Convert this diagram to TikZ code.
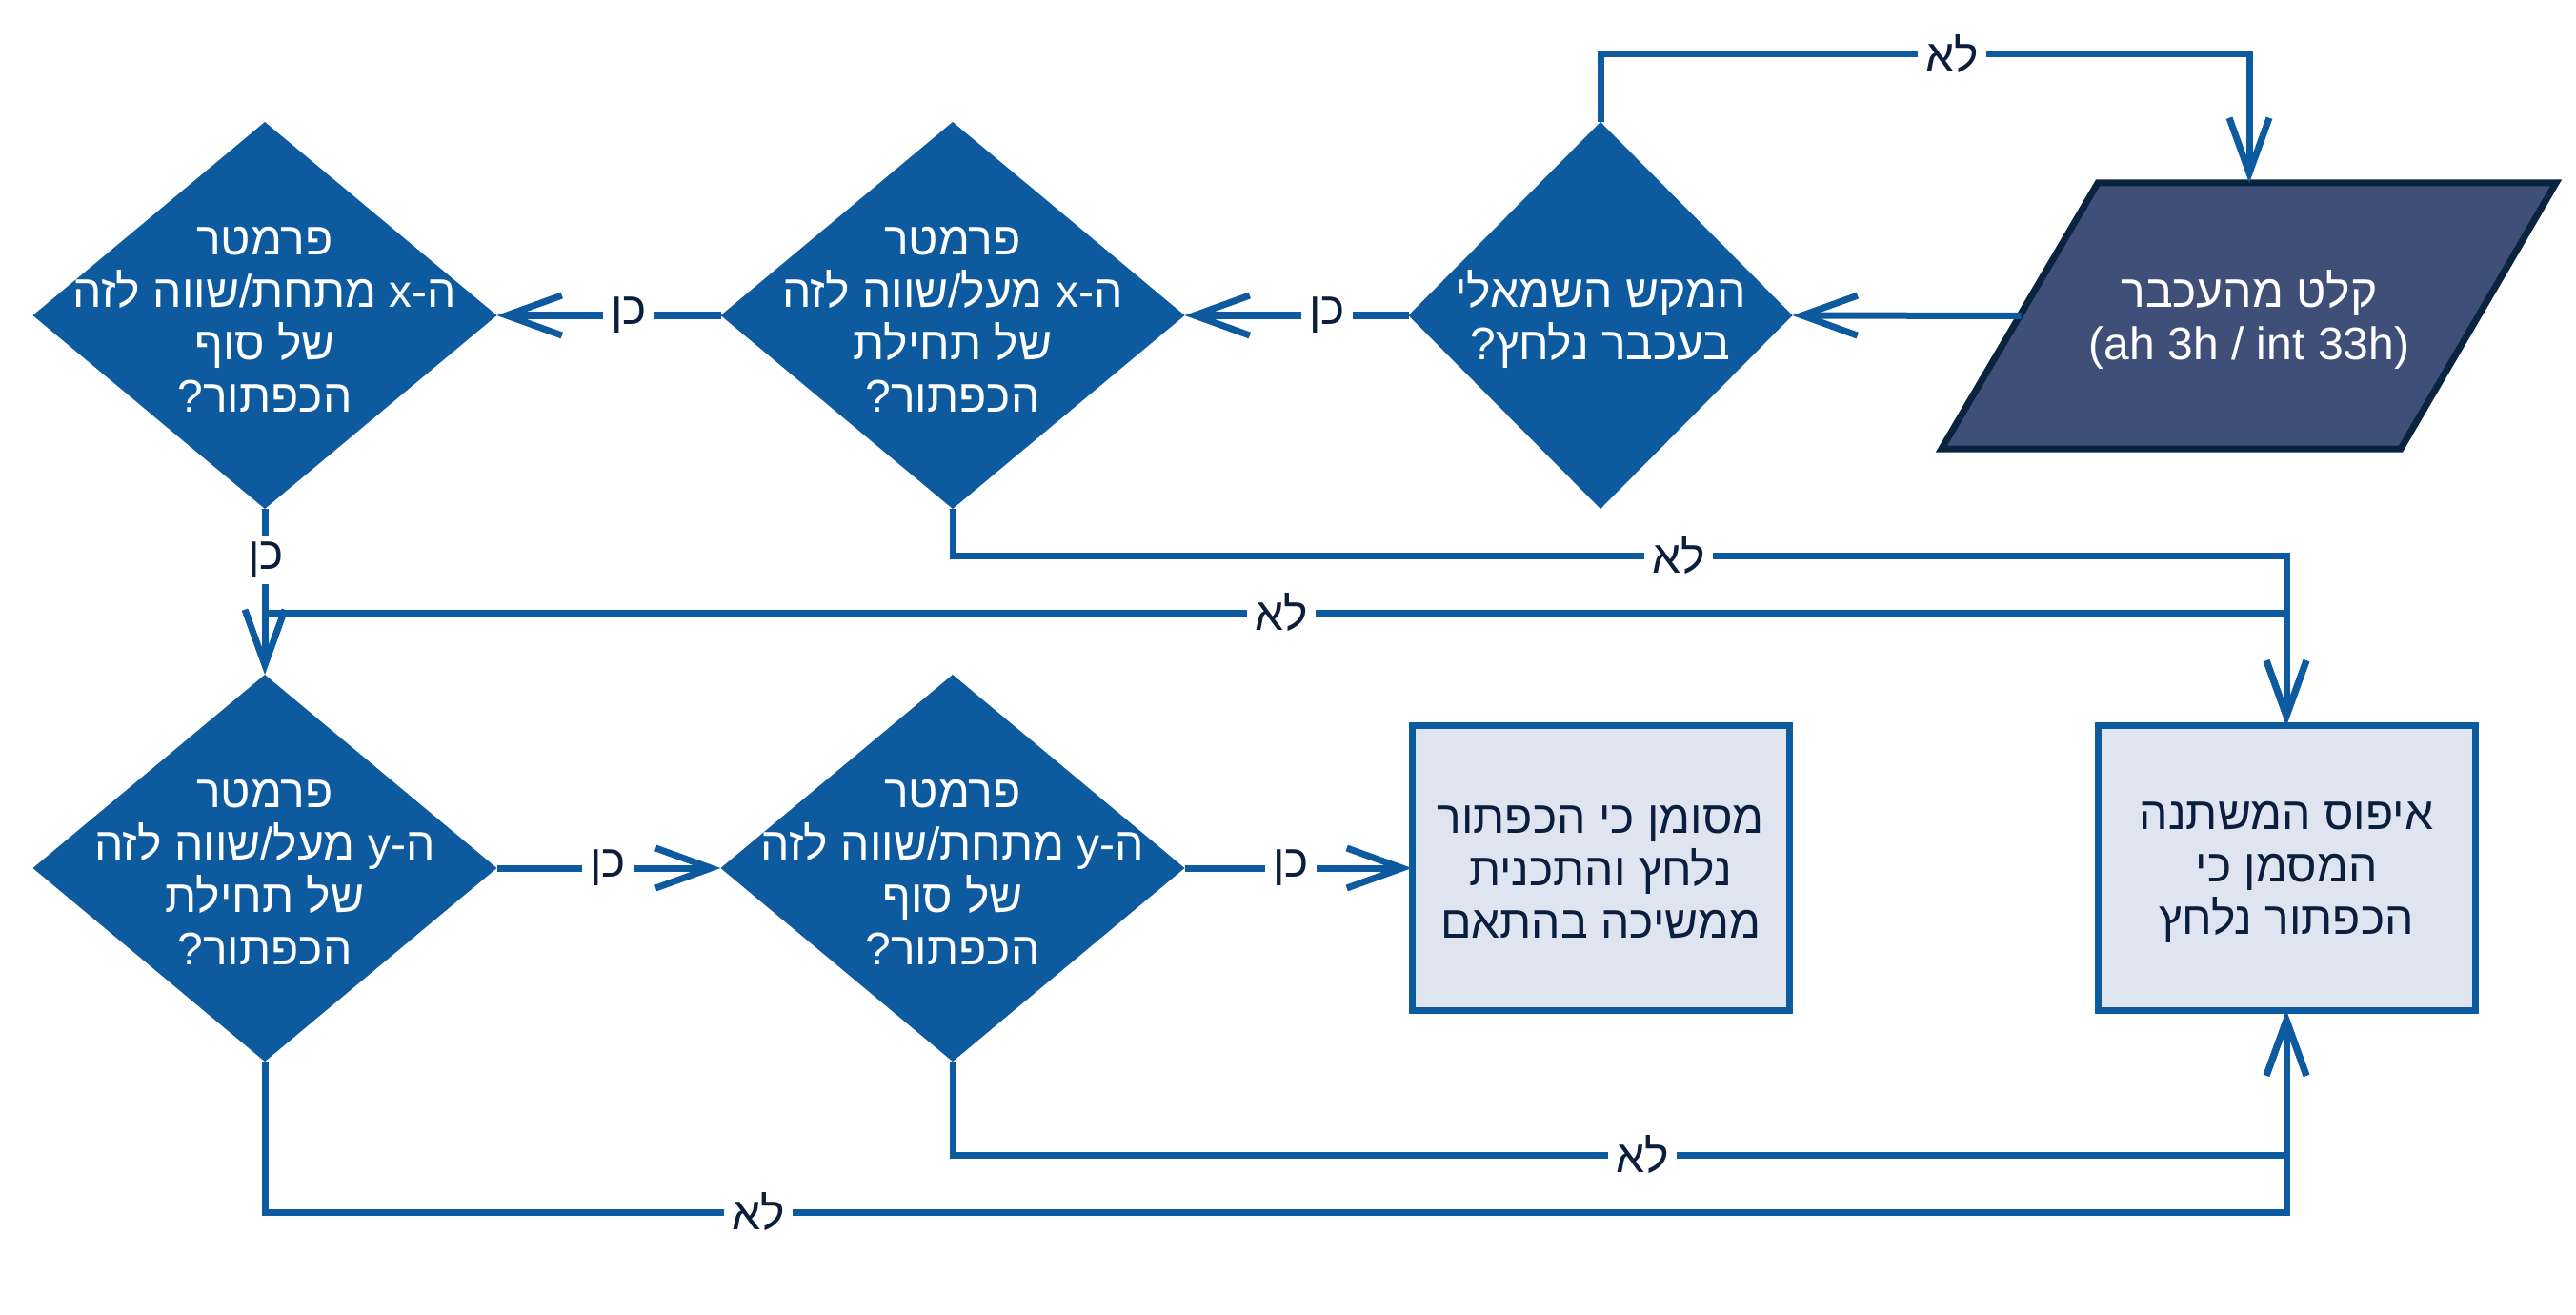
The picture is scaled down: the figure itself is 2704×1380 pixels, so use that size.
\documentclass[tikz,border=0pt]{standalone}
\usepackage{fontspec}
\setmainfont{Liberation Sans}
\newfontfamily\hefont[Script=Hebrew]{Liberation Sans}
\TeXXeTstate=1
\usetikzlibrary{arrows.meta,shapes.geometric}
\definecolor{dblue}{HTML}{0D5A9E}
\definecolor{boxfill}{HTML}{DEE5F0}
\definecolor{pfill}{HTML}{404F78}
\definecolor{pborder}{HTML}{0A2440}
\definecolor{navy}{HTML}{0B1E3D}
\newcommand{\heb}[1]{\beginR #1\endR}
\begin{document}
\begin{tikzpicture}[x=1pt,y=-1pt,
  dia/.style={shape=diamond, fill=dblue, inner sep=0pt, outer sep=0pt, minimum width=487pt, minimum height=406pt},
  diasmall/.style={dia, minimum width=403pt},
  txt/.style={align=center, font=\hefont\fontsize{48pt}{55pt}\selectfont, inner sep=0pt, yshift=-4pt},
  dtext/.style={txt, text=white},
  btext/.style={txt, text=navy},
  box/.style={draw=dblue, fill=boxfill, line width=7pt, outer sep=0pt, minimum width=396pt, minimum height=299pt, inner sep=0pt},
  para/.style={inner sep=0pt, outer sep=0pt, minimum width=479pt, minimum height=279pt},
  conn/.style={draw=dblue, line width=7pt, -{Straight Barb[length=58pt,width=42pt,line cap=butt,line join=miter]}},
  lbl/.style={fill=white, text=navy, font=\hefont\fontsize{48pt}{55pt}\selectfont, inner xsep=8pt, inner ysep=6pt}
]
\useasboundingbox (0,0) rectangle (2704,1380);

% shapes
\node[dia] (A) at (278,331) {};
\node[dia] (B) at (1000,331) {};
\node[diasmall] (C) at (1680,331) {};
\node[dia] (D) at (278,911) {};
\node[dia] (E) at (1000,911) {};
\node[box] (F) at (1680,911) {};
\node[box] (R) at (2400,911) {};
\draw[fill=pfill, draw=pborder, line width=7pt] (2202,192) -- (2683,192) -- (2520,471) -- (2038,471) -- cycle;
\node[para] (P) at (2361,331.5) {};

% texts
\node[dtext] (Pt) at (P) {\heb{קלט מהעכבר}\\(ah 3h / int 33h)};
\node[dtext] (At) at (A) {\heb{פרמטר}\\\heb{ה-x מתחת/שווה לזה}\\\heb{של סוף}\\\heb{הכפתור?}};
\node[dtext] (Bt) at (B) {\heb{פרמטר}\\\heb{ה-x מעל/שווה לזה}\\\heb{של תחילת}\\\heb{הכפתור?}};
\node[dtext] (Ct) at (C) {\heb{המקש השמאלי}\\\heb{בעכבר נלחץ?}};
\node[dtext] (Dt) at (D) {\heb{פרמטר}\\\heb{ה-y מעל/שווה לזה}\\\heb{של תחילת}\\\heb{הכפתור?}};
\node[dtext] (Et) at (E) {\heb{פרמטר}\\\heb{ה-y מתחת/שווה לזה}\\\heb{של סוף}\\\heb{הכפתור?}};
\node[btext] (Ft) at (F) {\heb{מסומן כי הכפתור}\\\heb{נלחץ והתכנית}\\\heb{ממשיכה בהתאם}};
\node[btext] (Rt) at (R) {\heb{איפוס המשתנה}\\\heb{המסמן כי}\\\heb{הכפתור נלחץ}};

% route coordinates
\coordinate (cl) at (2361,57);
\coordinate (ra) at (2400,643);
\coordinate (rb) at (2400,583);
\coordinate (rc) at (2400,1212);
\coordinate (rd) at (2400,1272);

% connectors
\draw[conn] (C.north) |- (cl) -- (P.north);
\draw[conn] (P.west) -- (C.east);
\draw[conn] (C.west) -- (B.east);
\draw[conn] (B.west) -- (A.east);
\draw[conn] (A.south) |- (ra) -- (R.north);
\draw[conn] (B.south) |- (rb) -- (R.north);
\draw[conn] (A.south) -- (D.north);
\draw[conn] (D.east) -- (E.west);
\draw[conn] (E.east) -- (F.west);
\draw[conn] (E.south) |- (rc) -- (R.south);
\draw[conn] (D.south) |- (rd) -- (R.south);

% labels
\node[lbl] (l1) at (2049,57) {\heb{לא}};
\node[lbl] (l2) at (1393,331) {\heb{כן}};
\node[lbl] (l3) at (660,331) {\heb{כן}};
\node[lbl] (l4) at (279,588) {\heb{כן}};
\node[lbl] (l5) at (1762,583) {\heb{לא}};
\node[lbl] (l6) at (1345,643) {\heb{לא}};
\node[lbl] (l7) at (638,911) {\heb{כן}};
\node[lbl] (l8) at (1355,911) {\heb{כן}};
\node[lbl] (l9) at (1724,1212) {\heb{לא}};
\node[lbl] (l10) at (796,1272) {\heb{לא}};
\end{tikzpicture}
\end{document}
